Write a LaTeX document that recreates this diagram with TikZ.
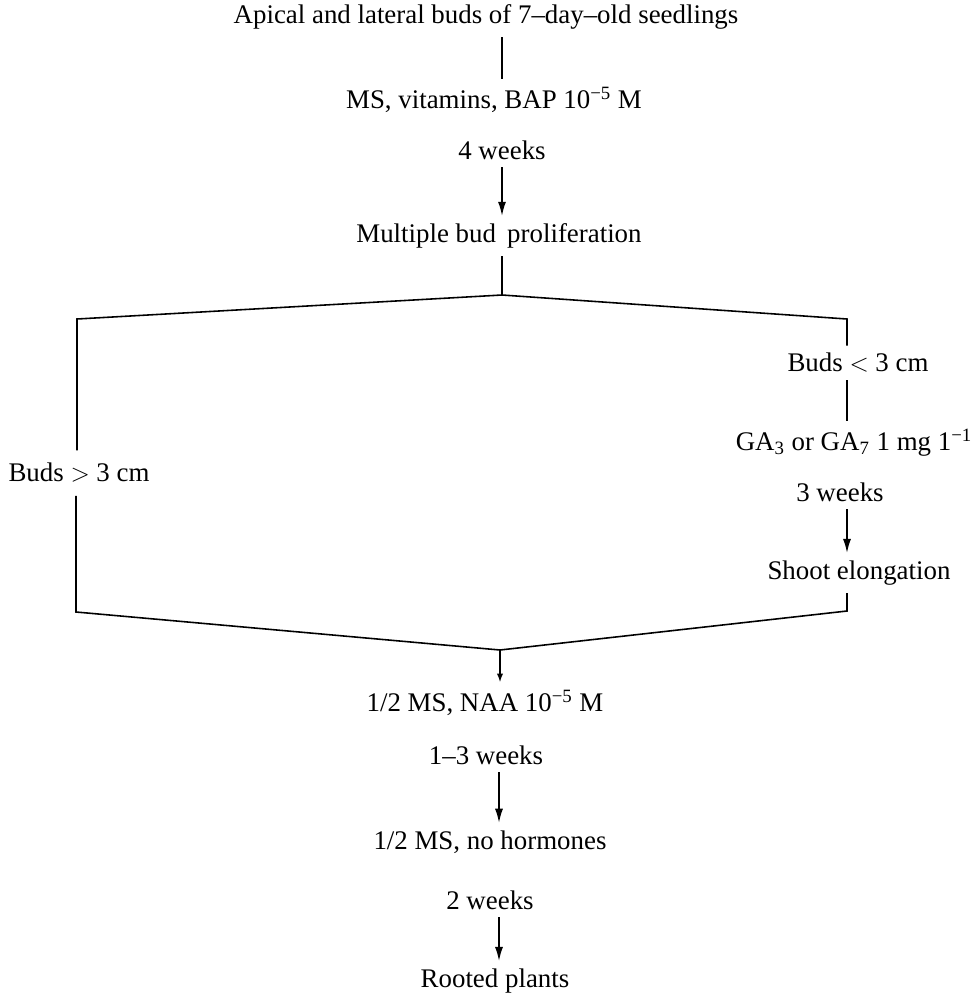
\documentclass[tikz,border=0pt]{standalone}
\usepackage{fontspec}
\setmainfont{Liberation Serif}
\usetikzlibrary{arrows.meta,calc}

\begin{document}
\begin{tikzpicture}[
  x=0.02cm, y=-0.02cm,
  font=\fontsize{15.3}{18}\selectfont,
  >={Latex[length=8pt,width=4.6pt]},
  line width=0.9pt,
  txt/.style={inner xsep=2pt, inner ysep=4pt},
  side/.style={txt, inner ysep=7pt},
  small/.style={-{Latex[length=5pt,width=3.6pt]}},
]
\useasboundingbox (0,0) rectangle (976,995);

% ── columns ──
\coordinate (cx) at (502,0);
\coordinate (cy) at (499,0);

% ── top: buds to proliferation ──
\node[txt] (top) at (486,17) {Apical and lateral buds of 7--day--old seedlings};
\node[txt] (ms)  at (494,100) {MS, vitamins, BAP 10\textsuperscript{−5} M};
\node[txt] (wk4) at (502,150) {4 weeks};
\node[txt] (mbp) at (499,236) {Multiple bud\, proliferation};

% ── branches ──
\coordinate (apex1) at (502,295);
\coordinate (lc1)   at (77,319);
\coordinate (rc1)   at (847,319);
\coordinate (lc2)   at (76,612);
\coordinate (rc2)   at (847,611);
\coordinate (apex2) at (500,650);

\node[side] (big)  at (79,473)  {Buds $>$ 3 cm};
\node[txt] (less)  at (858,363) {Buds $<$ 3 cm};
\node[txt] (ga)    at (854,443) {GA\textsubscript{3} or GA\textsubscript{7} 1 mg 1\textsuperscript{−1}};
\node[txt] (wk3)   at (840,492) {3 weeks};
\node[txt] (shoot) at (859,573) {Shoot elongation};

% ── rooting ──
\node[txt] (naa)    at (485,703) {1/2 MS, NAA 10\textsuperscript{−5} M};
\node[txt] (wk13)   at (486,755) {1--3 weeks};
\node[txt] (noh)    at (490,842) {1/2 MS, no hormones};
\node[txt] (wk2)    at (490,900) {2 weeks};
\node[txt] (rooted) at (495,981) {Rooted plants};

% ── lines and arrows ──
\draw (top.south -| cx) -- (ms.north -| cx);
\draw[->] (wk4.south -| cx) -- (mbp.north -| cx);
\draw (mbp.south -| cx) -- (apex1);
\draw (big.north -| lc1) -- (lc1) -- (apex1) -- (rc1) -- (less.north -| rc1);
\draw (less.south -| rc1) -- (ga.north -| rc1);
\draw[->] (wk3.south -| rc1) -- (shoot.north -| rc1);
\draw (big.south -| lc2) -- (lc2) -- (apex2) -- (rc2) -- (shoot.south -| rc2);
\draw[small] (apex2) -- (naa.north -| apex2);
\draw[->] (wk13.south -| cy) -- (noh.north -| cy);
\draw[->] (wk2.south -| cy) -- (rooted.north -| cy);

\end{tikzpicture}
\end{document}
